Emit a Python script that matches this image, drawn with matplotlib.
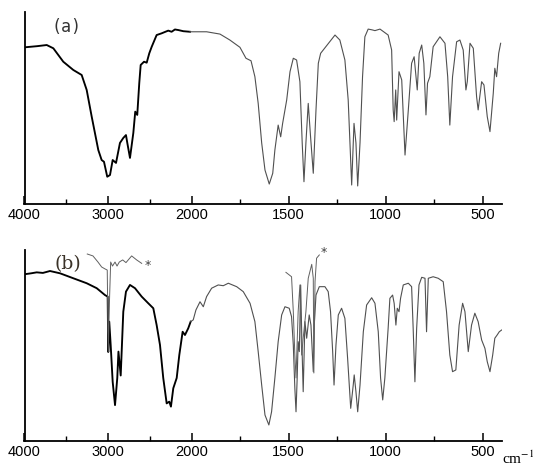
import numpy as np
import matplotlib
matplotlib.use("Agg")
import matplotlib.pyplot as plt
from matplotlib.ticker import FixedLocator

plt.rcParams['mathtext.fontset'] = 'stix'

# ---------------- data (wavenumber cm-1, transmittance a.u.) ----------------
a_wn = [4000, 3850, 3734, 3655, 3536, 3416, 3316, 3256, 3196, 3117, 3077, 3049, 3010, 2977,
        2945, 2905, 2858, 2818, 2786, 2770, 2738, 2698, 2675, 2651, 2627, 2610, 2570, 2538,
        2507, 2478, 2419, 2359, 2320, 2280, 2240, 2200, 2160, 2100, 2020,
        1923, 1854, 1803, 1751, 1720, 1694, 1674, 1657, 1639, 1622, 1600, 1582, 1571, 1554,
        1541, 1531, 1510, 1493, 1476, 1459, 1442, 1430, 1421, 1411, 1399, 1387, 1373, 1359,
        1347, 1335, 1261, 1236, 1210, 1193, 1175, 1163, 1153, 1144, 1132, 1119, 1107, 1090,
        1070, 1055, 1029, 987, 969, 961, 956, 948, 943, 931, 917, 900, 883, 866, 853, 837,
        827, 814, 803, 792, 784, 772, 755, 720, 694, 680, 669, 655, 634, 617, 600, 586, 579,
        565, 548, 531, 523, 505, 493, 476, 462, 445, 437, 428, 417, 407]
a_tr = [81.6, 82.2, 82.8, 81.1, 74.1, 69.8, 67.2, 59.4, 45.5, 28.1, 22.9, 22.0, 14.2, 15.1,
        22.9, 21.4, 31.8, 34.4, 35.9, 31.8, 24.0, 37.0, 48.1, 46.4, 62.9, 72.4, 74.1, 73.6,
        78.5, 81.9, 88.0, 88.9, 89.6, 90.3, 89.7, 90.9, 90.6, 90.0, 89.7,
        89.7, 88.5, 85.4, 81.6, 75.9, 74.6, 66.3, 52.4, 31.8, 17.7, 10.4, 16.0, 28.1, 41.1,
        35.0, 42.0, 54.2, 68.9, 75.9, 75.0, 63.7, 31.6, 11.6, 31.8, 52.4, 35.0, 16.0, 49.0,
        73.3, 78.5, 88.0, 85.4, 75.0, 54.2, 9.9, 42.0, 31.8, 9.4, 31.8, 66.3, 87.1, 91.1,
        90.7, 90.3, 91.1, 88.0, 80.2, 49.0, 42.9, 59.4, 43.7, 68.9, 64.6, 25.5, 49.0, 73.3,
        76.7, 59.4, 78.5, 82.8, 73.3, 46.4, 62.9, 66.3, 81.9, 87.1, 83.7, 66.3, 41.1, 66.3,
        84.5, 85.4, 80.2, 59.4, 63.7, 83.7, 81.1, 55.9, 49.0, 63.7, 62.0, 45.5, 37.7, 57.7,
        70.7, 66.3, 78.5, 83.7]

b_wn = [4000, 3920, 3854, 3780, 3695, 3575, 3416, 3256, 3136, 3037, 3005, 2998, 2986, 2969,
        2945, 2917, 2890, 2876, 2849, 2818, 2786, 2738, 2678, 2598, 2519, 2459, 2419, 2379,
        2340, 2299, 2268, 2248, 2220, 2179, 2148, 2108, 2080, 2041, 2012,
        1992, 1978, 1957, 1940, 1923, 1897, 1863, 1837, 1811, 1768, 1734, 1699, 1674, 1657,
        1639, 1622, 1602, 1588, 1571, 1554, 1536, 1519, 1497, 1485, 1476, 1468, 1462, 1456,
        1451, 1445, 1438, 1431, 1425, 1416, 1407, 1394, 1385, 1373, 1368, 1359, 1342, 1313,
        1296, 1284, 1273, 1266, 1256, 1244, 1227, 1210, 1196, 1180, 1167, 1162, 1153, 1144,
        1132, 1115, 1098, 1072, 1055, 1038, 1026, 1015, 1004, 987, 978, 964, 956, 947, 940,
        931, 923, 909, 883, 866, 858, 849, 840, 828, 814, 797, 789, 780, 755, 729, 703, 686,
        669, 655, 638, 621, 603, 591, 574, 557, 540, 523, 505, 488, 476, 462, 448, 437, 425,
        414, 402]
b_tr = [87.3, 87.8, 88.3, 88.0, 89.0, 87.8, 85.2, 82.6, 80.0, 76.4, 75.6, 46.6, 62.5, 50.3,
        31.0, 18.8, 33.0, 46.8, 34.3, 67.7, 78.2, 81.7, 80.0, 75.6, 72.1, 69.5, 60.7, 50.3,
        33.0, 19.7, 20.6, 18.0, 27.6, 33.0, 45.0, 57.2, 55.5, 59.0, 62.5,
        63.4, 68.6, 72.9, 70.3, 75.6, 80.0, 81.7, 81.3, 82.6, 80.8, 78.2, 72.1, 62.5, 46.8,
        29.3, 13.6, 8.4, 15.3, 33.0, 52.0, 66.0, 70.3, 69.5, 65.1, 50.3, 27.6, 15.3, 33.0,
        52.0, 46.8, 81.7, 48.5, 25.8, 62.5, 53.8, 66.0, 60.7, 36.3, 60.7, 76.4, 80.8, 80.8,
        78.2, 67.7, 46.8, 29.3, 50.3, 66.0, 69.5, 64.2, 43.3, 17.1, 29.3, 34.6, 25.8, 15.3,
        29.3, 57.2, 71.2, 75.0, 72.1, 57.2, 33.0, 21.5, 33.0, 59.0, 74.7, 76.4, 72.1, 60.7, 69.5,
        67.7, 74.7, 81.7, 82.6, 80.8, 59.0, 31.0, 59.0, 81.7, 85.7, 85.2, 57.2, 85.2, 86.0,
        85.2, 83.4, 67.7, 45.0, 36.3, 37.2, 60.7, 72.1, 67.7, 46.8, 60.7, 66.9, 62.5, 52.9,
        48.5, 41.5, 36.3, 45.0, 53.8, 55.5, 57.2, 58.1]

# expanded-scale insets in (b), marked with *
b_ins1_wn = [3249, 3181, 3121, 3077, 3037, 3010, 2998, 2983, 2969, 2947, 2917, 2893, 2866,
             2825, 2786, 2718, 2658, 2598]
b_ins1_tr = [97.9, 96.9, 93.7, 91.1, 90.1, 89.5, 46.6, 73.8, 93.7, 91.6, 93.7, 91.6, 93.7,
             94.8, 93.4, 96.9, 94.8, 93.0]
b_ins2_wn = [1514, 1485, 1476, 1468, 1462, 1451, 1442, 1433, 1425, 1411, 1399, 1381, 1373,
             1370, 1364, 1356, 1342]
b_ins2_tr = [88.3, 86.0, 67.7, 45.0, 33.0, 67.7, 81.7, 45.0, 53.9, 67.7, 85.2, 92.5, 85.2,
             35.6, 83.4, 95.7, 97.4]

major_ticks = [4000, 3000, 2000, 1500, 1000, 500]
minor_ticks = [3500, 2500, 1750, 1250, 750]
tick_labels = ['4000', '3000', '2000', '1500', '1000', '500']
panel_labels = ['(a)', '(b)']

# ---------------- scale: expanded below 2000 cm-1 ----------------
K = 2.3206
def fwd(w):
    w = np.asarray(w, dtype=float)
    return np.where(w <= 2000, w, 2000 + (w - 2000) / K)
def inv(u):
    u = np.asarray(u, dtype=float)
    return np.where(u <= 2000, u, 2000 + (u - 2000) * K)

W, H = 533, 473
fig = plt.figure(figsize=(W / 100, H / 100), dpi=100)
left = 24.5 / W
width = (502 - 24.5) / W
ax_a = fig.add_axes([left, 1 - 204 / H, width, (204 - 12) / H])
ax_b = fig.add_axes([left, 1 - 441 / H, width, (441 - 250) / H])

def style(ax):
    ax.set_xscale('function', functions=(fwd, inv))
    ax.set_xlim(4000, 400)
    ax.set_ylim(0, 100)
    for s in ['top', 'right']:
        ax.spines[s].set_visible(False)
    for s in ['left', 'bottom']:
        ax.spines[s].set_linewidth(1.3)
    ax.set_yticks([])
    ax.xaxis.set_major_locator(FixedLocator(major_ticks))
    ax.xaxis.set_minor_locator(FixedLocator(minor_ticks))
    ax.set_xticklabels(tick_labels)
    ax.xaxis.set_minor_formatter(plt.NullFormatter())
    ax.tick_params(axis='x', which='major', direction='in', length=6, width=1.1,
                   pad=3, labelsize=10.5)
    ax.tick_params(axis='x', which='minor', direction='in', length=3.5, width=1.0)
    for lab in ax.get_xticklabels():
        lab.set_family('Liberation Sans')

def draw(ax, wn, tr):
    wn = np.array(wn); tr = np.array(tr)
    hi = wn >= 2000
    lo = wn <= 2020
    ax.plot(wn[hi], tr[hi], color='black', lw=1.35)
    ax.plot(wn[lo], tr[lo], color='#505050', lw=0.8)

style(ax_a)
style(ax_b)
draw(ax_a, a_wn, a_tr)
draw(ax_b, b_wn, b_tr)
ax_b.plot(b_ins1_wn, b_ins1_tr, color='#606060', lw=0.7, clip_on=False)
ax_b.plot(b_ins2_wn, b_ins2_tr, color='#606060', lw=0.7, clip_on=False)
ax_b.text(2565, 92.0, '*', fontsize=9, color='#404040', ha='left', va='center',
          family='DejaVu Sans')
ax_b.text(1336, 98.5, '*', fontsize=9, color='#404040', ha='left', va='center',
          family='DejaVu Sans', clip_on=False)

fig.text(66.5 / W, 1 - 27 / H, panel_labels[0], fontsize=12, family='DejaVu Sans Mono',
         color='#333333', ha='center', va='center')
fig.text(68 / W, 1 - 264 / H, panel_labels[1], fontsize=13.5, family='DejaVu Serif',
         color='#3a3228', ha='center', va='center')
fig.text(502 / W, 1 - 464 / H, 'cm$^{-1}$', fontsize=11, family='Liberation Serif',
         ha='left', va='baseline')

fig.savefig('out.png', dpi=100)
